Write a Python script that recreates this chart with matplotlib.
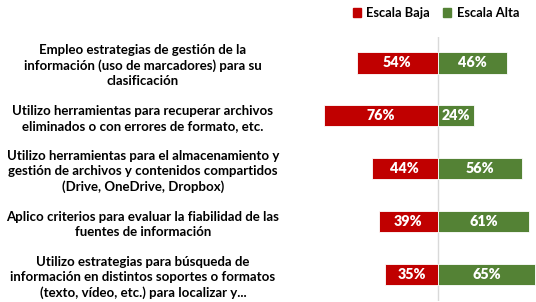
import matplotlib
matplotlib.use("Agg")
from matplotlib import pyplot as plt
from matplotlib.patches import Patch

categories = [
    "Empleo estrategias de gestión de la\ninformación (uso de marcadores) para su\nclasificación",
    "Utilizo herramientas para recuperar archivos\neliminados o con errores de formato, etc.",
    "Utilizo herramientas para el almacenamiento y\ngestión de archivos y contenidos compartidos\n(Drive, OneDrive, Dropbox)",
    "Aplico criterios para evaluar la fiabilidad de las\nfuentes de información",
    "Utilizo estrategias para búsqueda de\ninformación en distintos soportes o formatos\n(texto, vídeo, etc.) para localizar y...",
]
escala_baja = [54, 76, 44, 39, 35]
escala_alta = [46, 24, 56, 61, 65]

RED = "#C00000"
GREEN = "#548235"

plt.rcParams["font.family"] = ["Lato", "DejaVu Sans"]
plt.rcParams["font.weight"] = "bold"

fig = plt.figure(figsize=(5.36, 3.02), dpi=100)
ax = fig.add_axes([0.58, 0.003, 0.42, 0.876])

y = list(range(len(categories)))
neg_baja = [-v for v in escala_baja]
bars_b = ax.barh(y, neg_baja, height=0.4, color=RED, edgecolor="white", linewidth=0.6)
bars_a = ax.barh(y, escala_alta, height=0.4, color=GREEN, edgecolor="white", linewidth=0.6)

for bar, v in zip(bars_b, escala_baja):
    ax.text(bar.get_x() + bar.get_width() / 2, bar.get_y() + bar.get_height() / 2,
            f"{v}%", ha="center", va="center", color="white", fontsize=10.3, fontweight="heavy")
for bar, v in zip(bars_a, escala_alta):
    ax.text(bar.get_x() + bar.get_width() / 2, bar.get_y() + bar.get_height() / 2,
            f"{v}%", ha="center", va="center", color="white", fontsize=10.3, fontweight="heavy")

ax.axvline(0, color="#D9D9D9", linewidth=1, zorder=0)
ax.set_xlim(-84.5, 65.5)
ax.set_ylim(len(categories) - 0.5, -0.5)
ax.set_yticks(y)
ax.set_yticklabels(categories, ha="center", multialignment="center",
                   fontsize=9.5, fontweight="bold", linespacing=1.3)
ax.tick_params(axis="y", length=0, pad=121)
ax.set_xticks([])
for s in ax.spines.values():
    s.set_visible(False)

handles = [Patch(color=RED, label="Escala Baja"), Patch(color=GREEN, label="Escala Alta")]
fig.legend(handles=handles, loc="upper right", bbox_to_anchor=(0.99, 1.015), ncol=2,
           frameon=False, handlelength=0.65, handleheight=0.65, handletextpad=0.4,
           columnspacing=1.0, prop={"size": 9.3, "weight": "bold"})

fig.savefig("out.png", dpi=100)
